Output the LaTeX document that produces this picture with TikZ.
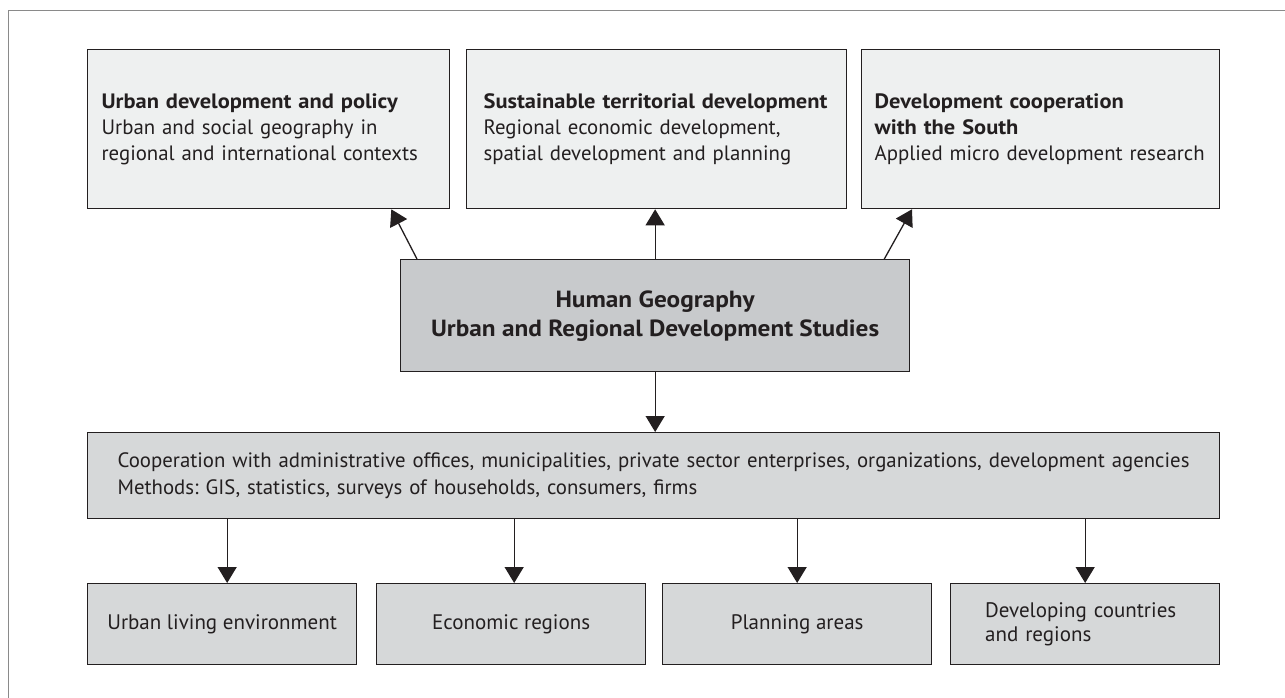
\documentclass[tikz,border=0pt]{standalone}
\usepackage{fontspec}
\setmainfont{PT Sans}[BoldFeatures={FakeStretch=1.08}]
\usetikzlibrary{arrows.meta,calc}
\definecolor{framegray}{HTML}{8A8A8A}
\definecolor{edge}{HTML}{231F20}
\definecolor{topfill}{HTML}{EEF0F0}
\definecolor{midfill}{HTML}{C8CACC}
\definecolor{lowfill}{HTML}{D6D8D9}
\tikzset{
  boxbase/.style={draw=edge, line width=1.3pt, anchor=north west, inner sep=0pt, text=edge},
  topbox/.style={boxbase, fill=topfill, minimum height=159pt, font=\fontsize{20.8}{26}\selectfont\frenchspacing, align=left},
  centerbox/.style={boxbase, fill=midfill, minimum height=112pt, minimum width=509pt, font=\fontsize{23.4}{29}\selectfont\bfseries, align=center},
  coopbox/.style={boxbase, fill=lowfill, minimum height=86pt, font=\fontsize{20.8}{26.5}\selectfont\frenchspacing, align=left},
  lowbox/.style={boxbase, fill=lowfill, minimum height=81pt, minimum width=269pt, font=\fontsize{21}{24}\selectfont},
  arr/.style={draw=edge, line width=1.3pt, -{Triangle[length=16pt,width=19pt]}}
}
\begin{document}
\begin{tikzpicture}[x=1pt,y=-1pt]
\useasboundingbox (0,0) rectangle (1285,698);
% frame (only top and left visible)
\draw[framegray, line width=1pt] (8,698) -- (8,11) -- (1285,11);
% top boxes
\node[topbox, minimum width=362pt, text width=334pt] (tl) at (87,49)
  {\textbf{Urban development and policy}\\Urban and social geography in\\regional and international contexts};
\node[topbox, minimum width=380pt, text width=346pt] (tm) at (466,49)
  {\textbf{Sustainable territorial development}\\Regional economic development,\\spatial development and planning};
\node[topbox, minimum width=358pt, text width=332pt] (tr) at (861,49)
  {\textbf{Development cooperation}\\\textbf{with the South}\\Applied micro development research};
% center box
\node[centerbox] (c) at (400,259) {Human Geography\\Urban and Regional Development Studies};
% cooperation box
\node[coopbox, minimum width=1132pt, text width=1072pt] (coop) at (87,432)
  {Cooperation with administrative offices, municipalities, private sector enterprises, organizations, development agencies\\Methods: GIS, statistics, surveys of households, consumers, firms};
% bottom boxes
\node[lowbox] (b1) at (87,583) {Urban living environment};
\node[lowbox] (b2) at (376,583) {Economic regions};
\node[lowbox] (b3) at (662,583) {Planning areas};
\node[lowbox, align=left, text width=200pt] (b4) at (950,583) {Developing countries\\and regions};
% connectors up
\draw[arr] ([xshift=17pt]c.north west) -- ([xshift=-59pt]tl.south east);
\draw[arr] (c.north) -- (c.north |- tm.south);
\draw[arr] ([xshift=-26pt]c.north east) -- ([xshift=51pt]tr.south west);
% connector down
\draw[arr] (c.south) -- (c.south |- coop.north);
% connectors to bottom boxes
\draw[arr] ([xshift=5pt]b1.north |- coop.south) -- ([xshift=5pt]b1.north);
\draw[arr] ([xshift=3pt]b2.north |- coop.south) -- ([xshift=3pt]b2.north);
\draw[arr] (b3.north |- coop.south) -- (b3.north);
\draw[arr] (b4.north |- coop.south) -- (b4.north);
\end{tikzpicture}
\end{document}
